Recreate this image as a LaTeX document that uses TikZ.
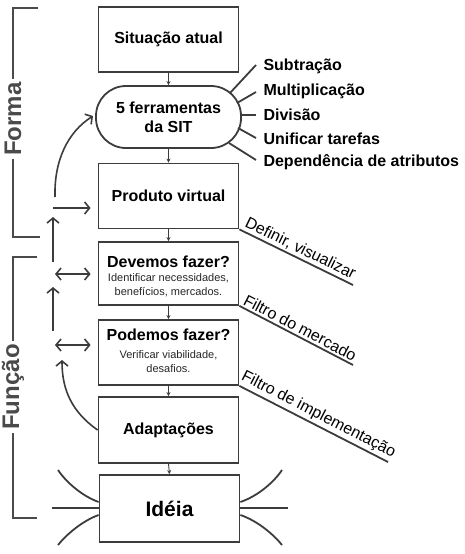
\documentclass[tikz,border=0pt]{standalone}
\usepackage{fontspec}
\setmainfont{Liberation Sans}
\usetikzlibrary{arrows.meta}
\definecolor{linegray}{HTML}{3C3C3C}
\definecolor{labgray}{HTML}{4A4A4A}
\begin{document}
\begin{tikzpicture}[x=1pt,y=-1pt,
  box/.style={draw=linegray, line width=1.8pt, minimum width=140pt, inner sep=0pt},
  title/.style={font=\fontsize{16}{19}\selectfont\bfseries},
  small/.style={font=\fontsize{11}{14}\selectfont, align=center, text=black!85},
  flow/.style={draw=linegray, line width=0.9pt, -{Stealth[length=4pt,width=4pt]}},
  barb/.style={draw=linegray, line width=1.6pt, -{Straight Barb[length=5pt,width=12pt]}},
  dbarb/.style={draw=linegray, line width=1.6pt, {Straight Barb[length=5pt,width=12pt]}-{Straight Barb[length=5pt,width=12pt]}},
  ray/.style={draw=linegray, line width=1.8pt},
  side/.style={draw=linegray, line width=1.8pt},
  sidelab/.style={font=\fontsize{16}{19}\selectfont, inner sep=2pt},
  bracket/.style={draw=labgray, line width=2.4pt},
  brlab/.style={font=\fontsize{24}{28}\selectfont\bfseries, text=labgray, rotate=90}
]
\useasboundingbox (0,0) rectangle (464,554);

% boxes
\node[box, minimum height=65pt] (sit) at (168.5,39.5) {};
\node[title] (sitT) at (sit.center) {Situação atual};
\node[box, minimum width=145pt, minimum height=62pt, rounded corners=30pt] (tools) at (168.5,117) {};
\node[title, align=center] (toolsT) at (tools.center) {5 ferramentas\\da SIT};
\node[box, minimum height=65pt] (prod) at (168.5,196) {};
\node[title] (prodT) at (prod.center) {Produto virtual};
\node[box, minimum height=63pt] (dev) at (168.5,273.5) {};
\node[title] (devT) at (168.5,262) {Devemos fazer?};
\node[small] (devS) at (168.5,285.5) {Identificar necessidades,\\benefícios, mercados.};
\node[box, minimum height=65pt] (pod) at (168.5,352.5) {};
\node[title] (podT) at (168.5,335) {Podemos fazer?};
\node[small] (podS) at (168.5,362) {Verificar viabilidade,\\desafios.};
\node[box, minimum height=66pt] (adap) at (168.5,430) {};
\node[title] (adapT) at (adap.center) {Adaptações};
\node[box, minimum height=67pt] (idea) at (169.5,508.5) {};
\node[font=\fontsize{21}{25}\selectfont\bfseries] (ideaT) at (idea.center) {Idéia};

% flow arrows
\draw[flow] (sit.south) -- (tools.north);
\draw[flow] (tools.south) -- (prod.north);
\draw[flow] (prod.south) -- (dev.north);
\draw[flow] (dev.south) -- (pod.north);
\draw[flow] (pod.south) -- (adap.north);
\draw[flow] (adap.south) -- (idea.north);

% tool labels
\node[title, anchor=west] (l1) at (260,66) {Subtração};
\node[title, anchor=west] (l2) at (260,91) {Multiplicação};
\node[title, anchor=west] (l3) at (260,115) {Divisão};
\node[title, anchor=west] (l4) at (260,139) {Unificar tarefas};
\node[title, anchor=west] (l5) at (260,162) {Dependência de atributos};
\coordinate (r1) at (230,93);
\coordinate (r2) at (237,103);
\coordinate (r3) at (240,115);
\coordinate (r4) at (238,128);
\coordinate (r5) at (229,143);
\coordinate (e1) at (256,65);
\coordinate (e2) at (256,92);
\coordinate (e3) at (256,115);
\coordinate (e4) at (256,138);
\coordinate (e5) at (256,160);
\draw[ray] (r1) -- (e1);
\draw[ray] (r2) -- (e2);
\draw[ray] (r3) -- (e3);
\draw[ray] (r4) -- (e4);
\draw[ray] (r5) -- (e5);

% side lines with labels
\coordinate (d1) at (353,285);
\coordinate (d2) at (353,365);
\coordinate (d3) at (388,462);
\draw[side] (prod.south east) -- (d1) node[midway, above, sloped, sidelab] {Definir, visualizar};
\draw[side] (dev.south east) -- (d2) node[midway, above, sloped, sidelab] {Filtro do mercado};
\draw[side] (pod.south east) -- (d3) node[midway, above, sloped, sidelab] {Filtro de implementação};

% left arrows
\coordinate (a0) at (55,197);
\coordinate (a1) at (93,116);
\draw[barb] (a0) .. controls (54,160) and (68,132) .. (a1);
\coordinate (h0) at (53,208);
\draw[barb] (h0) -- ([xshift=-7pt]prod.west |- h0);
\coordinate (v1a) at (53,262);
\coordinate (v1b) at (53,217);
\draw[barb] (v1a) -- (v1b);
\coordinate (dd1) at (55,274);
\draw[dbarb] (dd1) -- ([xshift=-7pt]dev.west |- dd1);
\coordinate (v2a) at (53,331);
\coordinate (v2b) at (53,287);
\draw[barb] (v2a) -- (v2b);
\coordinate (dd2) at (55,345);
\draw[dbarb] (dd2) -- ([xshift=-7pt]pod.west |- dd2);
\coordinate (c1) at (62,360);
\draw[barb] ([yshift=0pt]adap.west |- 0,430) .. controls (72,412) and (62,390) .. (c1);

% idea rays
\coordinate (il1) at (58,470);
\coordinate (il2) at (52,508);
\coordinate (il3) at (58,545);
\coordinate (ir1) at (282,470);
\coordinate (ir2) at (288,508);
\coordinate (ir3) at (282,545);
\draw[ray] (idea.west |- 0,502) .. controls (82,496) and (66,482) .. (il1);
\draw[ray] (idea.west |- 0,508) -- (il2);
\draw[ray] (idea.west |- 0,515) .. controls (82,521) and (66,535) .. (il3);
\draw[ray] (idea.east |- 0,502) .. controls (258,496) and (274,482) .. (ir1);
\draw[ray] (idea.east |- 0,508) -- (ir2);
\draw[ray] (idea.east |- 0,515) .. controls (258,521) and (274,535) .. (ir3);

% brackets
\node[brlab] (forma) at (13,119) {Forma};
\node[brlab] (funcao) at (13,387) {Função};
\draw[bracket] (38,8) -- (13,8) -- (forma.east);
\draw[bracket] (forma.west) -- (13,237) -- (40,237);
\draw[bracket] (37,257) -- (13,257) -- (funcao.east);
\draw[bracket] (funcao.west) -- (13,518) -- (37,518);
\end{tikzpicture}
\end{document}
